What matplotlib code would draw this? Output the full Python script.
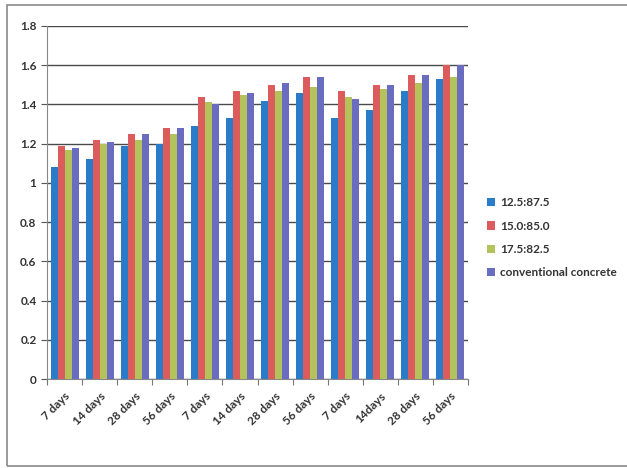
import numpy as np
import matplotlib
matplotlib.use("Agg")
import matplotlib.pyplot as plt
from matplotlib.patches import Rectangle

plt.rcParams['font.family'] = ['Lato', 'DejaVu Sans']

# curing ages, three repeated blocks
ages = ["7 days", "14 days", "28 days", "56 days",
        "7 days", "14 days", "28 days", "56 days",
        "7 days", "14days", "28 days", "56 days"]

mix_125 = [1.08, 1.12, 1.19, 1.20, 1.29, 1.33, 1.42, 1.46, 1.33, 1.37, 1.47, 1.53]
mix_150 = [1.19, 1.22, 1.25, 1.28, 1.44, 1.47, 1.50, 1.54, 1.47, 1.50, 1.55, 1.60]
mix_175 = [1.17, 1.20, 1.22, 1.25, 1.41, 1.45, 1.47, 1.49, 1.44, 1.48, 1.51, 1.54]
conventional = [1.18, 1.21, 1.25, 1.28, 1.40, 1.46, 1.51, 1.54, 1.43, 1.50, 1.55, 1.60]

series = [("12.5:87.5", mix_125, "#2a7bc8"),
          ("15.0:85.0", mix_150, "#dc5c5e"),
          ("17.5:82.5", mix_175, "#b3c25a"),
          ("conventional concrete", conventional, "#6a6cbf")]

fig = plt.figure(figsize=(6.27, 4.68), dpi=100)
fig.patch.set_facecolor("white")

# outer chart frame
fig.patches.append(Rectangle((7 / 627, 2 / 468), 1.2, 461 / 468, transform=fig.transFigure,
                             fill=False, edgecolor="#8a8a8a", linewidth=1.2))

ax = fig.add_axes([47 / 627, 89 / 468, 421 / 627, 353 / 468])

x = np.arange(len(ages))
w = 0.2
for i, (name, vals, col) in enumerate(series):
    ax.bar(x + (i - 1.5) * w, vals, width=w, color=col, label=name, zorder=3)

ax.set_ylim(0, 1.8)
ax.set_xlim(-0.5, len(ages) - 0.5)
ax.set_yticks(np.arange(0, 1.81, 0.2))
ax.set_yticklabels(["0", "0.2", "0.4", "0.6", "0.8", "1", "1.2", "1.4", "1.6", "1.8"])
ax.yaxis.grid(True, color="#4a4a4a", linewidth=1.0, zorder=0)

ax.set_xticks(np.arange(-0.5, len(ages), 1.0))
ax.set_xticklabels([])
ax.set_xticks(x, minor=True)
ax.set_xticklabels(ages, minor=True, rotation=45, ha="right", rotation_mode="anchor",
                   fontsize=8.5, fontweight="bold", color="#333333")
ax.tick_params(axis="x", which="minor", length=0, pad=8)
ax.tick_params(axis="x", which="major", length=4, color="#777777", direction="out")
ax.tick_params(axis="y", length=4, color="#555555", labelsize=8.5, labelcolor="#333333")
for lbl in ax.get_yticklabels():
    lbl.set_fontweight("bold")

for side in ["top", "right"]:
    ax.spines[side].set_visible(False)
ax.spines["left"].set_color("#888888")
ax.spines["bottom"].set_color("#888888")

leg = ax.legend(loc="center left", bbox_to_anchor=(1.02, 0.40), frameon=False,
                prop={"size": 8.5, "weight": "bold"}, handlelength=0.7, handleheight=0.7,
                handletextpad=0.4, labelspacing=1.05)
for t in leg.get_texts():
    t.set_color("#333333")

fig.savefig("out.png", dpi=100)
